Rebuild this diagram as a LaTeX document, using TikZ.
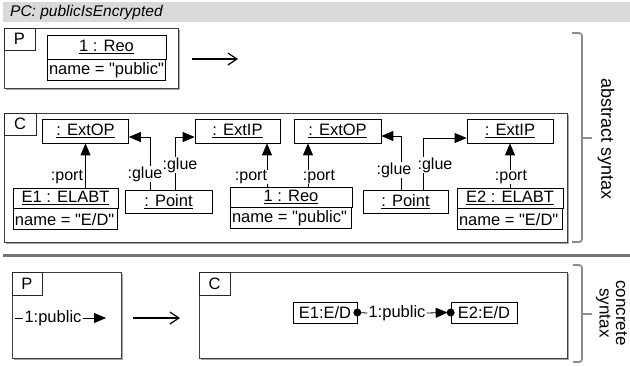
\documentclass[tikz,border=0pt]{standalone}
\usepackage{fontspec}
\setmainfont{Liberation Sans}
\font\attrfont="Liberation Sans" at 16.5pt
\usetikzlibrary{arrows.meta,shadows}
\begin{document}
\begin{tikzpicture}[x=1pt,y=-1pt,
  every node/.style={font=\fontsize{16.5}{19}\selectfont, inner sep=0pt},
  frame/.style={draw=black!75, line width=1pt, fill=white, drop shadow={shadow xshift=1.8pt, shadow yshift=-1.8pt, fill=black!35, opacity=1}},
  tab/.style={draw=black!85, line width=0.8pt, fill=white},
  box/.style={draw, line width=0.7pt, fill=white},
  attr/.style={box, font=\attrfont, minimum height=21pt, inner xsep=1.5pt,
    execute at begin node={\hbox to #1\bgroup}, execute at end node={\hss\egroup}},
  lbl/.style={fill=white, inner sep=0.6pt, font=\fontsize{16}{18}\selectfont},
  link/.style={line width=0.8pt, -{Triangle[length=12pt,width=10pt]}},
  plain/.style={line width=0.8pt},
  brk/.style={draw=black!45, line width=1.8pt, rounded corners=3pt},
  flow/.style={line width=1.2pt, -{Straight Barb[length=9pt,width=12pt]}}
]
\useasboundingbox (0,0) rectangle (630,365);

% title bar
\node[fill=black!15, minimum width=627pt, minimum height=20pt, anchor=north west] (titlebar) at (3,2) {};
\node[anchor=west, font=\fontsize{15.5}{18}\selectfont\itshape] (title) at (10,12) {PC: publicIsEncrypted};

% ---- abstract syntax: P
\node[frame, minimum width=174pt, minimum height=60pt] (pA) at (91,58) {};
\node[tab, minimum width=31pt, minimum height=22pt] (pAtab) at (19.5,39) {P};
\node[box, minimum width=119pt, minimum height=24pt] (reoPh) at (106.5,47) {\underline{1 : Reo}};
\node[attr=115pt, anchor=north] (reoPa) at (reoPh.south) {name = "public"};

\coordinate (a1s) at (192,59);
\coordinate (a1e) at (238,59);
\draw[flow] (a1s) -- (a1e);

% ---- abstract syntax: C
\node[frame, minimum width=563pt, minimum height=129pt] (cA) at (285.5,177.5) {};
\node[tab, minimum width=32pt, minimum height=22pt] (cAtab) at (20,124) {C};

\node[box, minimum width=86pt, minimum height=24pt] (opA) at (85.5,131) {\underline{: ExtOP}};
\node[box, minimum width=85pt, minimum height=24pt] (ipA) at (237.5,131) {\underline{: ExtIP}};
\node[box, minimum width=87pt, minimum height=24pt] (opB) at (337.5,131) {\underline{: ExtOP}};
\node[box, minimum width=86pt, minimum height=24pt] (ipB) at (510,131) {\underline{: ExtIP}};

\node[box, minimum width=105pt, minimum height=20pt] (e1h) at (65.5,198) {\underline{E1 : ELABT}};
\node[attr=101pt, anchor=north] (e1a) at (e1h.south) {name = "E/D"};
\node[box, minimum width=87pt, minimum height=23pt] (ptA) at (168.5,201.5) {\underline{: Point}};
\node[box, minimum width=122pt, minimum height=20pt] (reoCh) at (291,197) {\underline{1 : Reo}};
\node[attr=118pt, anchor=north] (reoCa) at (reoCh.south) {name = "public"};
\node[box, minimum width=85pt, minimum height=23pt] (ptB) at (405.5,201.5) {\underline{: Point}};
\node[box, minimum width=106pt, minimum height=20pt] (e2h) at (510,198) {\underline{E2 : ELABT}};
\node[attr=102pt, anchor=north] (e2a) at (e2h.south) {name = "E/D"};

\draw[link] (opA.south |- e1h.north) -- (opA.south);
\draw[link] ([xshift=-18.5pt]ptA.north) |- ([yshift=-6pt]opA.east);
\draw[link] ([xshift=6.5pt]ptA.north) |- ([yshift=-6pt]ipA.west);
\draw[link] ([xshift=-24pt]reoCh.north) -- ([xshift=-24pt]reoCh.north |- ipA.south);
\draw[link] ([xshift=17pt]reoCh.north) -- ([xshift=17pt]reoCh.north |- opB.south);
\draw[link] ([xshift=-4.5pt]ptB.north) |- ([yshift=-5pt]opB.east);
\draw[link] ([xshift=17.5pt]ptB.north) |- ([yshift=-7pt]ipB.west);
\draw[link] (e2h.north) -- (e2h.north |- ipB.south);

\node[lbl] (lp1) at (67,177) {:port};
\node[lbl] (lg1) at (145,174) {:glue};
\node[lbl] (lg2) at (180,165) {:glue};
\node[lbl] (lp2) at (251,177) {:port};
\node[lbl] (lp3) at (319,177) {:port};
\node[lbl] (lg3) at (394,170) {:glue};
\node[lbl] (lg4) at (435,165) {:glue};
\node[lbl] (lp4) at (511,177) {:port};

% separator
\draw[line width=3pt, black!55] (3,255) -- (630,255);

% ---- concrete syntax: P
\node[frame, minimum width=109pt, minimum height=86pt] (pB) at (66.5,315) {};
\node[tab, minimum width=30pt, minimum height=23pt] (pBtab) at (27,283.5) {P};
\coordinate (pBs) at (15,318);
\node[inner xsep=1pt] (pBl) at (53,318) {1:public};
\coordinate (pBe) at (106,318);
\draw[plain] (pBs) -- (pBl.west);
\draw[link] (pBl.east) -- (pBe);

\coordinate (a2s) at (133,318);
\coordinate (a2e) at (180,318);
\draw[flow] (a2s) -- (a2e);

% ---- concrete syntax: C
\node[frame, minimum width=368pt, minimum height=86pt] (cB) at (383,315) {};
\node[tab, minimum width=31pt, minimum height=23pt] (cBtab) at (214.5,283.5) {C};
\node[box, minimum width=64pt, minimum height=21pt] (e1d) at (325,312.5) {E1:E/D};
\node[box, minimum width=66pt, minimum height=21pt] (e2d) at (484,312.5) {E2:E/D};
\node[inner xsep=1pt] (pub) at (397,313) {1:public};
\draw[plain] (e1d.east) -- (pub.west);
\draw[link] (pub.east) -- ([xshift=-3pt]e2d.west);
\fill (e1d.east) circle[radius=4pt];
\fill (e2d.west) circle[radius=4pt];

% braces
\draw[brk] (572,33) -- (582,33) -- (582,242) -- (572,242);
\draw[brk] (582,138) -- (592,138);
\draw[brk] (573,265) -- (582,265) -- (582,362) -- (573,362);
\draw[brk] (582,314) -- (592,314);
\node[rotate=-90, font=\fontsize{18}{18}\selectfont] (abs) at (606,139) {abstract syntax};
\node[rotate=-90, align=center, font=\fontsize{17}{16.5}\selectfont] (conc) at (611.5,313) {concrete\\syntax};
\end{tikzpicture}
\end{document}
